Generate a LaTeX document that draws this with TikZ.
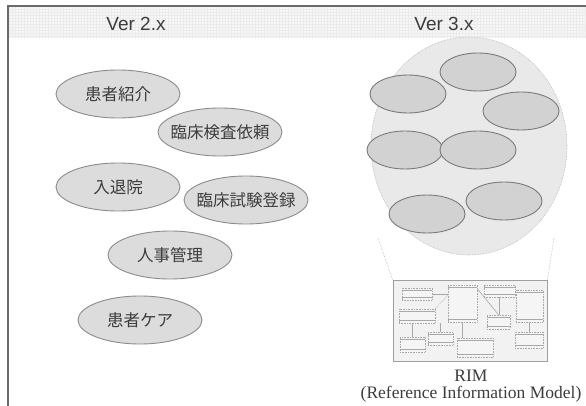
\documentclass[tikz,border=0pt]{standalone}
\usepackage{fontspec}
\setmainfont{Liberation Serif}
\newfontfamily\cjk{Noto Sans CJK JP}
\newfontfamily\arial{Liberation Sans}
\usetikzlibrary{shapes.geometric}
\definecolor{frame}{HTML}{6A6A6A}
\definecolor{txt}{HTML}{3C3C3C}
\definecolor{ellfill}{HTML}{DCDCDC}
\definecolor{ellline}{HTML}{8C8C8C}
\definecolor{bigfill}{HTML}{E9E9E9}
\definecolor{smfill}{HTML}{D2D2D2}
\definecolor{smline}{HTML}{7A7A7A}
\definecolor{rimline}{HTML}{A8A8A8}
\tikzset{
  topic/.style={ellipse, draw=ellline, line width=0.9pt, fill=ellfill,
    minimum width=124pt, minimum height=48pt, inner ysep=0pt, inner xsep=-14pt,
    font=\cjk\fontsize{16.5}{18}\selectfont, text=txt},
  blob/.style={ellipse, draw=smline, line width=0.9pt, fill=smfill,
    minimum width=76pt, minimum height=38pt, inner sep=0pt},
  cls/.style={draw=rimline, densely dotted, line width=0.6pt, fill=white!92!gray, inner sep=0pt},
  lnk/.style={draw=rimline, line width=0.6pt},
  hdr/.style={font=\arial\fontsize{19}{22}\selectfont, text=txt},
  guide/.style={draw=gray!70, densely dotted, line width=0.5pt},
  captxt/.style={font=\fontsize{17.5}{19}\selectfont, text=txt, inner sep=0pt}
}
\begin{document}
\begin{tikzpicture}[x=1pt,y=-1pt]
\useasboundingbox (0,0) rectangle (586,406);
\fill[white] (0,0) rectangle (586,406);
% header band with faint grid
\fill[black!3] (8,6) rectangle (586,38);
\draw[black!8, line width=0.3pt, step=3pt] (8,6) grid (586,38);
% frame
\draw[frame, line width=1.8pt] (8,406) -- (8,6) -- (586,6);
% headers
\node[hdr] (v2) at (136,24) {Ver 2.x};
\node[hdr] (v3) at (444,24) {Ver 3.x};
% left topics
\node[topic] (t1) at (118,94) {患者紹介};
\node[topic] (t2) at (220,132) {臨床検査依頼};
\node[topic] (t3) at (118,187) {入退院};
\node[topic] (t4) at (246,200) {臨床試験登録};
\node[topic] (t5) at (170,255) {人事管理};
\node[topic] (t6) at (140,320) {患者ケア};
% right big circle
\node[ellipse, draw=gray!60, densely dotted, line width=0.6pt, fill=bigfill,
  minimum width=196pt, minimum height=218pt, inner sep=0pt] (big) at (469,146) {};
\node[blob] (b1) at (478,72) {};
\node[blob] (b2) at (408,94) {};
\node[blob] (b3) at (521,111) {};
\node[blob] (b4) at (405,150) {};
\node[blob] (b5) at (478,150) {};
\node[blob] (b6) at (504,201) {};
\node[blob] (b7) at (427,214) {};
% RIM box
\node[draw=gray!75, line width=0.8pt, fill=black!5, minimum width=154pt,
  minimum height=81pt, inner sep=0pt] (rim) at (470,320.5) {};
\coordinate (gl1) at (378,238);
\coordinate (gr1) at (554,238);
\draw[guide] (gl1) -- (rim.north west);
\draw[guide] (gr1) -- (rim.north east);
% class boxes inside RIM
\node[cls, minimum width=30pt, minimum height=12pt] (ca) at (417,294) {};
\node[cls, minimum width=29pt, minimum height=37pt] (cb) at (462.5,303.5) {};
\node[cls, minimum width=31pt, minimum height=12pt] (cc) at (499.5,291) {};
\node[cls, minimum width=27pt, minimum height=32pt] (cd) at (529.5,306) {};
\node[cls, minimum width=36pt, minimum height=14pt] (ce) at (417,316) {};
\node[cls, minimum width=23pt, minimum height=14pt] (cf) at (498.5,322) {};
\node[cls, minimum width=25pt, minimum height=15pt] (cg) at (412.5,344.5) {};
\node[cls, minimum width=25pt, minimum height=13pt] (ch) at (440.5,338.5) {};
\node[cls, minimum width=36pt, minimum height=19pt] (ci) at (475,347.5) {};
\node[cls, minimum width=28pt, minimum height=16pt] (cj) at (529,340) {};
\foreach \n in {ca,cb,cc,cd,ce,cf,cg,ch,ci,cj}{
  \draw[rimline, line width=0.5pt] ([yshift=-3pt]\n.north west) -- ([yshift=-3pt]\n.north east);
  \draw[rimline, line width=0.5pt] ([yshift=3pt]\n.south west) -- ([yshift=3pt]\n.south east);
}
\draw[lnk] (ca.east) -- (ca.east -| cb.west);
\draw[lnk, densely dotted] (ce.north east) -- ([yshift=8pt]cb.west);
\draw[lnk] ([yshift=-4pt]cb.north east) -- (cf.north);
\draw[lnk] (cc.south) -- (cc.south |- cf.north);
\draw[lnk] (cc.east) -- (cc.east -| cd.west);
\draw[lnk] (ce.south -| cg.north) -- (cg.north);
\draw[lnk] (ce.south -| ch.north) -- (ch.north);
\draw[lnk] (cb.south) -- (cb.south |- ci.north);
\draw[lnk] (cd.south) -- (cd.south |- cj.north);
% RIM caption
\node[captxt] (rimt) at (471,375.5) {RIM};
\node[captxt] (rims) at (471,394) {(Reference Information Model)};
\end{tikzpicture}
\end{document}
